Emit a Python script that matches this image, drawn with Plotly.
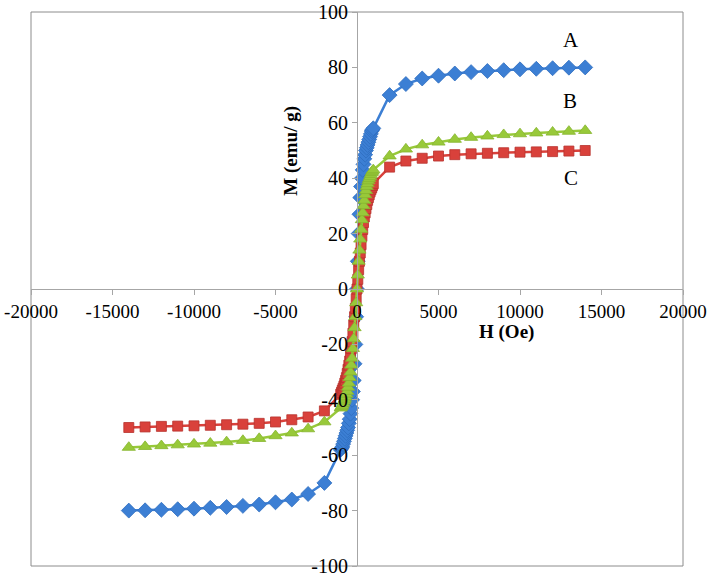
import plotly.graph_objects as go

# Field values (Oe)
H_neg_far = [-14000, -13000, -12000, -11000, -10000, -9000, -8000, -7000, -6000, -5000, -4000, -3000, -2000]
H_dense = [-1000, -950, -900, -850, -800, -750, -700, -650, -600, -550, -500, -450, -400, -350, -300,
           -250, -200, -150, -100, -50, 0,
           50, 100, 150, 200, 250, 300, 350, 400, 450, 500, 550, 600, 650, 700, 750, 800, 850, 900, 950, 1000]
H_pos_far = [2000, 3000, 4000, 5000, 6000, 7000, 8000, 9000, 10000, 11000, 12000, 13000, 14000]
H_all = H_neg_far + H_dense + H_pos_far

# Magnetization (emu/g)
M_A = [-80, -79.9, -79.7, -79.5, -79.3, -79, -78.7, -78.3, -77.8, -77, -76, -74, -70,
       -58, -57.5, -57, -56, -55, -54, -53, -52, -51, -50, -48.5, -47, -45, -43, -40,
       -37, -33, -27, -20, -10, 0,
       10, 20, 27, 33, 37, 40, 43, 45, 47, 48.5, 50, 51, 52, 53, 54, 55, 56, 57, 57.5, 58,
       70, 74, 76, 77, 77.8, 78.3, 78.7, 79, 79.3, 79.5, 79.7, 79.9, 80]
M_B = [-57.2, -56.9, -56.6, -56.3, -56, -55.7, -55.2, -54.7, -54, -53, -52, -50.5, -48,
       -43, -42.5, -42, -41.3, -40.5, -39.8, -39, -38, -37, -35.5, -34, -32, -30, -27.5,
       -25, -21.5, -18, -14, -10, -5, 0,
       5, 10, 14, 18, 21.5, 25, 27.5, 30, 32, 34, 35.5, 37, 38, 39, 39.8, 40.5, 41.3, 42, 42.5, 43,
       48, 50.5, 52, 53, 54, 54.7, 55.2, 55.7, 56, 56.3, 56.6, 56.9, 57.2]
M_C = [-50, -49.8, -49.6, -49.5, -49.4, -49.2, -49, -48.8, -48.5, -48, -47.2, -46.2, -44,
       -38, -37.3, -36.5, -35.8, -35, -34, -33, -32, -30.5, -29, -27.5, -26, -24, -21.5,
       -19, -16, -13, -10, -7, -3.5, 0,
       3.5, 7, 10, 13, 16, 19, 21.5, 24, 26, 27.5, 29, 30.5, 32, 33, 34, 35, 35.8, 36.5, 37.3, 38,
       44, 46.2, 47.2, 48, 48.5, 48.8, 49, 49.2, 49.4, 49.5, 49.6, 49.8, 50]

x_ticks = [-20000, -15000, -10000, -5000, 0, 5000, 10000, 15000, 20000]
y_ticks = [-100, -80, -60, -40, -20, 0, 20, 40, 60, 80, 100]

series_labels = ["A", "B", "C"]
label_pos_H = [13100, 13050, 13150]
label_pos_M = [90, 68, 40]

FONT = "Liberation Serif, Times New Roman, serif"
BLUE = "#3C7FD4"
RED = "#D9413B"
GREEN = "#98C93A"

fig = go.Figure()
fig.add_trace(go.Scatter(x=H_all, y=M_A, mode="lines+markers", name="A",
                         line=dict(color=BLUE, width=2.5),
                         marker=dict(symbol="diamond", size=11.5, color=BLUE,
                                     line=dict(color="#2F6DBF", width=0.8))))
fig.add_trace(go.Scatter(x=H_all, y=M_C, mode="lines+markers", name="C",
                         line=dict(color=RED, width=2.5),
                         marker=dict(symbol="square", size=10, color=RED,
                                     line=dict(color="#B8322D", width=0.8))))
fig.add_trace(go.Scatter(x=H_all, y=M_B, mode="lines+markers", name="B",
                         line=dict(color=GREEN, width=2.5),
                         marker=dict(symbol="triangle-up", size=11.5, color=GREEN,
                                     line=dict(color="#86B52E", width=0.8))))

annotations = []
for lab, hx, my in zip(series_labels, label_pos_H, label_pos_M):
    annotations.append(dict(x=hx, y=my, xref="x", yref="y", text=lab, showarrow=False,
                            font=dict(family=FONT, size=21, color="black")))
annotations.append(dict(x=-4100, y=50, xref="x", yref="y", text="<b>M (emu/ g)</b>",
                        textangle=-90, showarrow=False,
                        font=dict(family=FONT, size=19, color="black")))
annotations.append(dict(x=9150, y=-15.5, xref="x", yref="y", text="<b>H (Oe)</b>",
                        showarrow=False, font=dict(family=FONT, size=19, color="black")))

fig.update_layout(
    width=712, height=577,
    margin=dict(l=31, r=29, t=12, b=11),
    paper_bgcolor="white", plot_bgcolor="white",
    showlegend=False,
    annotations=annotations,
    shapes=[dict(type="rect", xref="paper", yref="paper", x0=0, x1=1, y0=0, y1=1,
                 line=dict(color="#8C8C8C", width=1), layer="below")],
    xaxis=dict(range=[-20000, 20000], tickvals=x_ticks, ticktext=[str(v) for v in x_ticks],
               anchor="free", position=0.5, showline=True, linecolor="#A6A6A6", linewidth=1,
               ticks="outside", ticklen=5, tickcolor="#A6A6A6", showgrid=False, zeroline=False,
               tickfont=dict(family=FONT, size=19, color="black"), automargin=False),
    yaxis=dict(range=[-100, 100], tickvals=y_ticks, ticktext=[str(v) for v in y_ticks],
               anchor="free", position=0.5, showline=True, linecolor="#A6A6A6", linewidth=1,
               ticks="outside", ticklen=5, tickcolor="#A6A6A6", showgrid=False, zeroline=False,
               tickfont=dict(family=FONT, size=20, color="black"), automargin=False),
)

fig.write_html("out.html", config={"displayModeBar": False},
               post_script="document.body.style.margin='0';document.body.style.overflow='hidden';")
